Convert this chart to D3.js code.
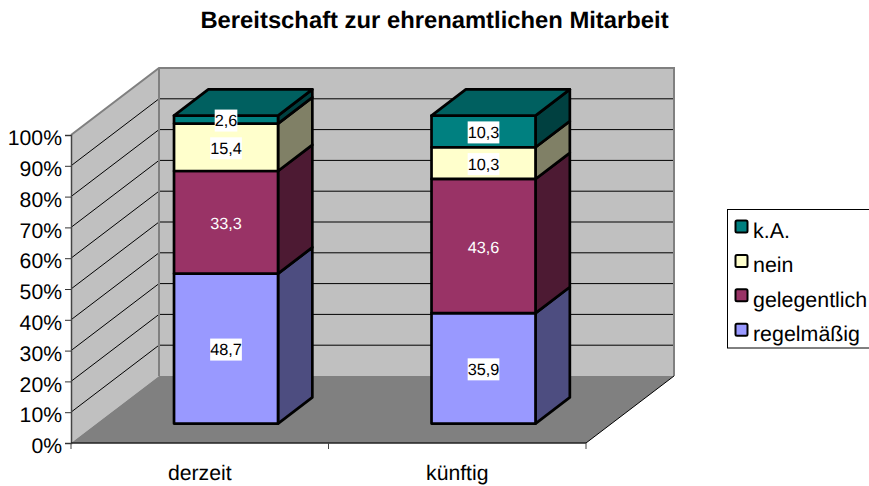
<!DOCTYPE html>
<html><head><meta charset="utf-8">
<style>html,body{margin:0;padding:0;background:#fff;overflow:hidden}svg{display:block;font-family:"Liberation Sans",Arial,sans-serif;text-rendering:geometricPrecision}</style>
<script src="https://cdn.jsdelivr.net/npm/d3@7"></script>
</head><body><svg id="c" width="869" height="486"></svg>
<script>
const titleText = "Bereitschaft zur ehrenamtlichen Mitarbeit";
const categories = ["derzeit", "künftig"];
const seriesNames = ["regelmäßig", "gelegentlich", "nein", "k.A."];
const regelmaessig = [48.7, 35.9];
const gelegentlich = [33.3, 43.6];
const nein = [15.4, 10.3];
const keineAngabe = [2.6, 10.3];
const seriesValues = [regelmaessig, gelegentlich, nein, keineAngabe];
const frontColors = ["#9999FF", "#993366", "#FFFFCC", "#008080"];
const sideColors = ["#4D4D80", "#4D1A33", "#808066", "#004040"];
const topColors = ["#7373BF", "#73264D", "#BFBF99", "#006060"];
const labelColors = ["#000", "#fff", "#000", "#000"];
const labelBoxes = [true, false, true, true];
const yTicks = [0, .1, .2, .3, .4, .5, .6, .7, .8, .9, 1];

const svg = d3.select("#c");
const rows = categories.map((c, i) => {
  const r = {category: c};
  seriesNames.forEach((s, k) => r[s] = seriesValues[k][i]);
  return r;
});
const stacked = d3.stack().keys(seriesNames).offset(d3.stackOffsetExpand)(rows);

const x = d3.scaleBand().domain(categories).range([71, 586]);
const y = d3.scaleLinear().domain([0, 1]).range([443, 135]);
const dx = d3.scaleLinear().domain([0, 1]).range([0, 88]);
const dy = d3.scaleLinear().domain([0, 1]).range([0, -67]);
const P = (px, v, d) => [px + dx(d), y(v) + dy(d)];
const poly = pts => d3.line()(pts) + "Z";
const xStart = x.range()[0], xEnd = x.range()[1];

// walls and floor
const wallFill = "#C0C0C0";
svg.append("path").attr("d", poly([P(xStart,0,1),P(xEnd,0,1),P(xEnd,1,1),P(xStart,1,1)])).attr("fill", wallFill);
svg.append("path").attr("d", poly([P(xStart,0,0),P(xStart,0,1),P(xStart,1,1),P(xStart,1,0)])).attr("fill", wallFill);
svg.append("path").attr("d", poly([P(xStart,0,0),P(xEnd,0,0),P(xEnd,0,1),P(xStart,0,1)])).attr("fill", "#808080");

// gridlines
yTicks.slice(1, -1).forEach(t => {
  svg.append("path").attr("d", d3.line()([P(xStart,t,0),P(xStart,t,1),P(xEnd,t,1)]))
    .attr("fill", "none").attr("stroke", "#000").attr("stroke-width", 1);
});
// wall edges
svg.append("path").attr("d", d3.line()([P(xStart,1,0),P(xStart,1,1),P(xEnd,1,1),P(xEnd,0,1)]))
  .attr("fill", "none").attr("stroke", "#808080").attr("stroke-width", 2);
svg.append("path").attr("d", d3.line()([P(xStart,0,1),P(xStart,1,1)]))
  .attr("stroke", "#808080").attr("stroke-width", 2);
svg.append("path").attr("d", d3.line()([P(xEnd,0,0),P(xEnd,0,1)]))
  .attr("stroke", "#000").attr("stroke-width", 1);

// axes
const yAxis = d3.axisLeft(y).tickValues(yTicks).tickFormat(d3.format(".0%")).tickSize(6).tickPadding(3);
const gy = svg.append("g").attr("transform", "translate(71,0)").call(yAxis);
gy.selectAll("text").attr("font-size", 21.2).attr("fill", "#000").attr("font-family", "Liberation Sans").attr("y", 3);
gy.selectAll("line").attr("stroke", "#333");
gy.select(".domain").attr("stroke", "#444").attr("stroke-width", 1.5);

const xAxis = d3.axisBottom(x).tickSize(0).tickPadding(22);
const gx = svg.append("g").attr("transform", "translate(0,443)").call(xAxis);
gx.selectAll("text").attr("font-size", 21.2).attr("fill", "#000").attr("font-family", "Liberation Sans");
gx.select(".domain").remove();
svg.append("line").attr("x1", xStart).attr("x2", xEnd).attr("y1", 443).attr("y2", 443).attr("stroke", "#222").attr("stroke-width", 1.5);
[...categories.map(c => x(c)), xEnd].forEach(t => {
  svg.append("line").attr("x1", t).attr("x2", t).attr("y1", 443).attr("y2", 449).attr("stroke", "#444").attr("stroke-width", 1);
});

// bars
const d0 = 0.29, d1 = 0.68;       // depth extent of the bar inside the chart floor
const barOffset = 77.5, barWidth = 104;
const fmt = d3.formatLocale({decimal: ",", thousands: ".", grouping: [3], currency: ["", ""]}).format(".1f");
const labels = [];
categories.forEach((c, i) => {
  const L = x(c) + barOffset, R = L + barWidth;
  stacked.forEach((s, k) => {
    const [a, b] = s[i];
    const g = svg.append("g").attr("stroke", "#000").attr("stroke-width", 2.7).attr("stroke-linejoin", "round");
    g.append("path").attr("d", poly([P(R,a,d0),P(R,a,d1),P(R,b,d1),P(R,b,d0)])).attr("fill", sideColors[k]);
    g.append("path").attr("d", poly([P(L,a,d0),P(R,a,d0),P(R,b,d0),P(L,b,d0)])).attr("fill", frontColors[k]);
    if (k === stacked.length - 1)
      g.append("path").attr("d", poly([P(L,b,d0),P(R,b,d0),P(R,b,d1),P(L,b,d1)])).attr("fill", topColors[k]);
    const [cx, cy] = P((L + R) / 2, (a + b) / 2, d0);
    labels.push({cx, cy, text: fmt(seriesValues[k][i]), k});
  });
});
labels.forEach(l => {
  const g = svg.append("g");
  const t = g.append("text").attr("x", l.cx).attr("y", l.cy + 1).attr("text-anchor", "middle")
    .attr("dy", ".35em").attr("font-size", 16.3).attr("fill", labelColors[l.k]).text(l.text);
  if (labelBoxes[l.k]) {
    const w = t.node().getComputedTextLength();
    g.insert("rect", "text").attr("x", l.cx - w / 2).attr("y", l.cy - 10).attr("width", w).attr("height", 22).attr("fill", "#fff");
  }
});

// title
svg.append("text").attr("x", 434.5).attr("y", 27.5).attr("text-anchor", "middle")
  .attr("font-size", 23.8).attr("font-weight", "bold").attr("fill", "#000").text(titleText);

// legend
svg.append("rect").attr("x", 727.5).attr("y", 209.5).attr("width", 150).attr("height", 138.5)
  .attr("fill", "#fff").attr("stroke", "#000").attr("stroke-width", 1);
const legendRow = d3.scaleBand().domain(seriesNames.slice().reverse()).range([209, 346.6]);
seriesNames.slice().reverse().forEach(name => {
  const k = seriesNames.indexOf(name);
  const top = legendRow(name);
  svg.append("rect").attr("x", 735.5).attr("y", top + 11.5).attr("width", 12).attr("height", 12).attr("rx", 1.5)
    .attr("fill", frontColors[k]).attr("stroke", "#000").attr("stroke-width", 2);
  svg.append("text").attr("x", 753).attr("y", top + 29).attr("font-size", 21.4).attr("fill", "#000").text(name);
});
</script></body></html>
